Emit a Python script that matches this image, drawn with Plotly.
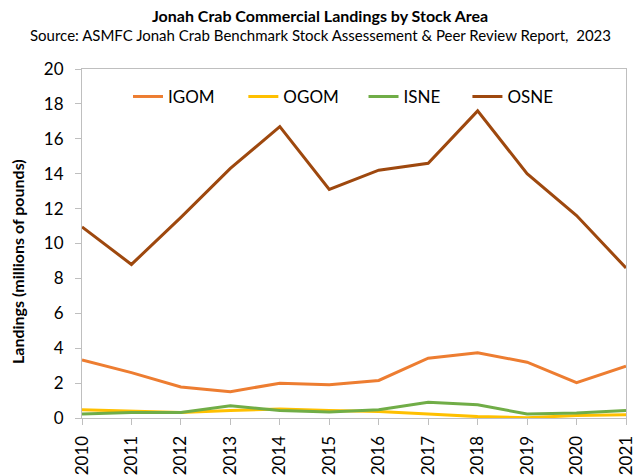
import plotly.graph_objects as go

years = list(range(2010, 2022))
igom = [3.33, 2.6, 1.78, 1.51, 1.99, 1.9, 2.15, 3.43, 3.74, 3.2, 2.03, 2.97]
ogom = [0.47, 0.41, 0.31, 0.43, 0.52, 0.43, 0.37, 0.23, 0.08, 0.02, 0.14, 0.18]
isne = [0.23, 0.31, 0.31, 0.70, 0.43, 0.35, 0.47, 0.90, 0.76, 0.23, 0.29, 0.43]
osne = [10.95, 8.8, 11.5, 14.3, 16.7, 13.1, 14.2, 14.6, 17.6, 14.0, 11.6, 8.6]

series = [("IGOM", igom, "#ED7D31"), ("OGOM", ogom, "#FFC000"),
          ("ISNE", isne, "#70AD47"), ("OSNE", osne, "#9E480E")]
legend_x = [0.0846, 0.2966, 0.5175, 0.7085]
legend_ids = ["legend", "legend2", "legend3", "legend4"]

FONT = "Lato"
fig = go.Figure()
for (name, vals, col), lid in zip(series, legend_ids):
    fig.add_trace(go.Scatter(x=years, y=vals, name=name, mode="lines",
                             line=dict(color=col, width=3), legend=lid))

layout_legends = {}
for lid, lx in zip(legend_ids, legend_x):
    layout_legends[lid] = dict(x=lx, y=0.92, xanchor="left", yanchor="middle",
                               font=dict(size=17, family=FONT), bgcolor="rgba(0,0,0,0)",
                               borderwidth=0)

fig.update_layout(
    width=641, height=476,
    margin=dict(l=82, r=15, t=69, b=58),
    paper_bgcolor="white", plot_bgcolor="white",
    font=dict(family=FONT, color="black", size=16),
    showlegend=True,
    **layout_legends,
    annotations=[
        dict(text="<b>Jonah Crab Commercial Landings by Stock Area</b>", x=0.438, y=1.0,
             xref="paper", yref="paper", yanchor="middle", yshift=54, showarrow=False,
             font=dict(size=16, family=FONT)),
        dict(text="Source: ASMFC Jonah Crab Benchmark Stock Assessement & Peer Review Report,  2023",
             x=0.438, y=1.0, xref="paper", yref="paper", yanchor="middle", yshift=34,
             showarrow=False, font=dict(size=15, family=FONT)),
        dict(text="<b>Landings (millions of pounds)</b>", x=-0.1176, y=0.447,
             xref="paper", yref="paper", xanchor="center", yanchor="middle",
             textangle=-90, showarrow=False, font=dict(size=16, family=FONT)),
    ],
)

fig.update_xaxes(range=[2010, 2021], tickmode="array", tickvals=years,
                 ticktext=[str(y) for y in years], tickangle=-90,
                 showline=True, linecolor="#BFBFBF", linewidth=1, mirror=True,
                 ticks="outside", ticklen=6, tickcolor="#BFBFBF", ticklabelstandoff=4,
                 showgrid=False, zeroline=False, automargin=False,
                 tickfont=dict(size=17, family=FONT))
fig.update_yaxes(range=[0, 20], dtick=2, tick0=0,
                 showline=True, linecolor="#BFBFBF", linewidth=1, mirror=True,
                 ticks="outside", ticklen=6, tickcolor="#BFBFBF", ticklabelstandoff=8,
                 showgrid=False, zeroline=False, automargin=False,
                 tickfont=dict(size=17, family=FONT))

fig.write_html("out.html", config={"displayModeBar": False},
               post_script="document.body.style.margin='0';")
